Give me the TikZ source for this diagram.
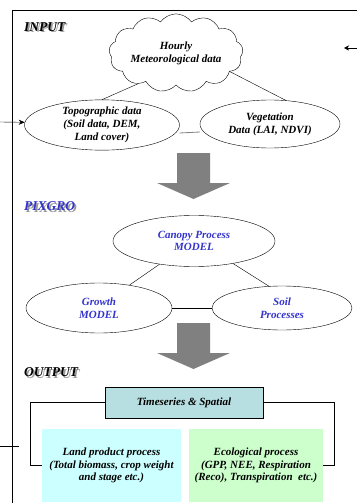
\documentclass[tikz,border=0pt]{standalone}
\usepackage{fontspec}
\setmainfont{Liberation Serif}
\usetikzlibrary{arrows.meta}
\usetikzlibrary{shapes.geometric,shapes.symbols,positioning}
\definecolor{colorBlue}{HTML}{3333CC}
\definecolor{colorGrey}{HTML}{808080}
\definecolor{colorShadow}{HTML}{9A9A9A}
\definecolor{colorTeal}{HTML}{B7DFE1}
\definecolor{colorCyan}{HTML}{CCFFFF}
\definecolor{colorGreen}{HTML}{CCFFCC}
\def\colorBlue{colorBlue}
\def\colorGrey{colorGrey}
% texte avec ombre grise decalee
\newcommand{\ombrage}[1]{\makebox[0pt][l]{\hspace{1.6pt}\raisebox{-1.2pt}{\color{colorShadow}#1}}#1}

\begin{document}
\begin{tikzpicture}[x=1pt, y=-1pt,
  texte/.style={font=\fontsize{11}{12.8}\selectfont\bfseries\itshape, align=center},
  bulle/.style={ellipse, draw, texte, inner sep=0pt},
  boite/.style={rectangle, texte, inner sep=0pt},
  titre/.style={font=\fontsize{13.5}{15}\selectfont\bfseries\itshape, anchor=west, inner sep=0pt}]

  \useasboundingbox (0,0) rectangle (357,503);

  % Fleche grise (forme pleine)
  \def\fleche{(-16.5,0) -- (16.5,0) -- (16.5,30) -- (36.5,30) -- (0,46) -- (-36.5,30) -- (-16.5,30) -- cycle}

  % Cadre general
  \draw (12,503) -- (12,10) -- (357,10);
  \coordinate (entree) at (0,122);
  \coordinate (retour) at (357,48);
  \coordinate (trait) at (0,446);
  \draw (trait) -- ++(19,0);
  \draw[-{Stealth[length=5pt,width=5pt]}] (retour) -- ++(-13,0);

  % INPUT
  \node[titre] (input) at (24,28) {\ombrage{INPUT}};
  \node[cloud, draw, texte, cloud puffs=13, cloud puff arc=110, aspect=2,
        minimum width=134, minimum height=68, inner sep=0pt] (meteo) at (176,53)
        {Hourly\\Meteorological data};
  \node[bulle, minimum width=155, minimum height=46] (topo) at (102,125)
        {Topographic data\\(Soil data, DEM,\\Land cover)};
  \node[bulle, minimum width=140, minimum height=48] (veg) at (270,124)
        {Vegetation\\Data (LAI, NDVI)};
  \draw (meteo.219) -- (topo.north);
  \draw (meteo.-19) -- (veg.56);
  \draw[\colorGrey, thick] ([yshift=-8pt]topo.east) -- ([yshift=-8pt]veg.west);
  \draw[-{Stealth[length=6pt,width=5pt]}] (entree) -- (topo.178);

  \fill[shift={(193.5,153)}, \colorGrey] \fleche;

  % PIXGRO
  \node[titre, \colorBlue] (pixgro) at (24,207) {\ombrage{PIXGRO}};
  \node[bulle, \colorBlue, draw=black, minimum width=162, minimum height=51] (canopy) at (194,241)
        {Canopy Process\\MODEL};
  \node[bulle, \colorBlue, draw=black, minimum width=146, minimum height=50] (growth) at (99,308)
        {Growth\\MODEL};
  \node[bulle, \colorBlue, draw=black, minimum width=140, minimum height=44] (soil) at (282,308)
        {Soil\\Processes};
  \draw (canopy.214) -- (growth.37);
  \draw (canopy.-30) -- (soil.121);
  \draw (growth.east) -- (soil.west);

  \fill[shift={(193.5,323)}, \colorGrey] \fleche;

  % OUTPUT
  \node[titre] (output) at (24,373) {\ombrage{OUTPUT}};
  \node[boite, draw, fill=colorTeal, minimum width=158, minimum height=31] (serie) at (184,402.5)
        {Timeseries \& Spatial};
  \node[boite, fill=colorCyan, minimum width=139, minimum height=73] (land) at (111.5,465.5)
        {Land product process\\(Total biomass, crop weight\\and stage etc.)};
  \node[boite, fill=colorGreen, minimum width=134, minimum height=73] (eco) at (256,465.5)
        {Ecological process\\(GPP, NEE, Respiration\\(Reco), Transpiration~ etc.)};
  \draw (serie.west) -- ++(-75,0) |- (land.west);
  \draw (serie.east) -- ++(71,0) |- (eco.east);

\end{tikzpicture}
\end{document}
